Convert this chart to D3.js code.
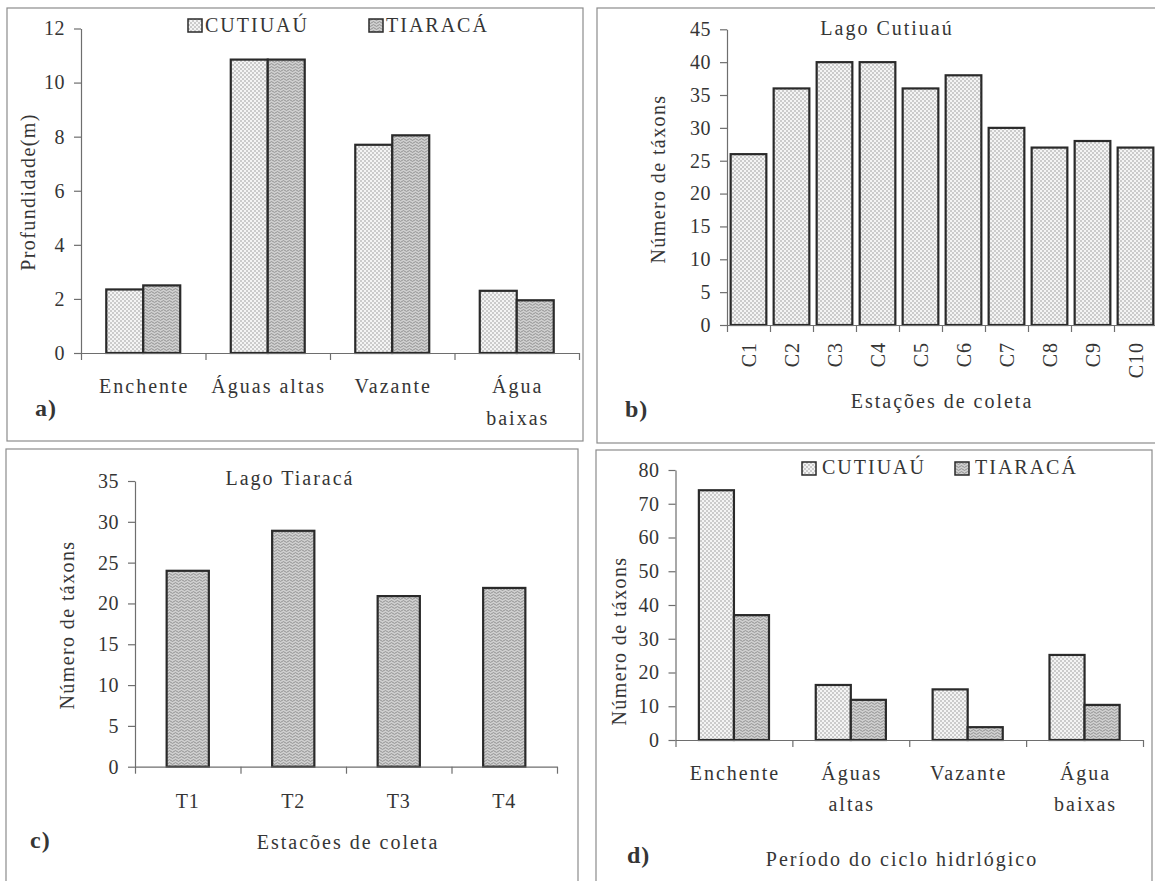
<!DOCTYPE html>
<html>
<head>
<meta charset="utf-8">
<script src="https://cdn.jsdelivr.net/npm/d3@7"></script>
<style>
  html, body { margin: 0; padding: 0; background: #ffffff; }
  svg { display: block; }
  text { font-family: "Liberation Serif", "Times New Roman", serif; fill: #353535; }
</style>
</head>
<body>
<svg id="chart" width="1155" height="881"></svg>
<script>
// ---------------- DATA ----------------
const seriesNames = ["CUTIUAÚ", "TIARACÁ"];

// a) Profundidade (m) por período
const periodsA = [["Enchente"], ["Águas altas"], ["Vazante"], ["Água", "baixas"]];
const depthCutiuau = [2.35, 10.85, 7.7, 2.3];
const depthTiaraca = [2.5, 10.85, 8.05, 1.95];
const depthTicks = [0, 2, 4, 6, 8, 10, 12];

// b) Lago Cutiuaú – número de táxons por estação
const stationsC = ["C1", "C2", "C3", "C4", "C5", "C6", "C7", "C8", "C9", "C10"];
const taxaStationsC = [26, 36, 40, 40, 36, 38, 30, 27, 28, 27];
const taxaTicksB = [0, 5, 10, 15, 20, 25, 30, 35, 40, 45];

// c) Lago Tiaracá – número de táxons por estação
const stationsT = ["T1", "T2", "T3", "T4"];
const taxaStationsT = [24, 28.9, 20.9, 21.9];
const taxaTicksC = [0, 5, 10, 15, 20, 25, 30, 35];

// d) Número de táxons por período do ciclo hidrológico
const periodsD = [["Enchente"], ["Águas", "altas"], ["Vazante"], ["Água", "baixas"]];
const taxaPeriodCutiuau = [74, 16.3, 15, 25.2];
const taxaPeriodTiaraca = [37, 11.9, 3.8, 10.4];
const taxaTicksD = [0, 10, 20, 30, 40, 50, 60, 70, 80];

// ---------------- DRAWING ----------------
const svg = d3.select("#chart");
const TEXT = "#353535", AXIS = "#6e6e6e", FRAME = "#8c8c8c", BAR_STROKE = "#2a2a2a";
const FS = 20;

const defs = svg.append("defs");
const pc = defs.append("pattern").attr("id", "patC").attr("patternUnits", "userSpaceOnUse")
  .attr("width", 4).attr("height", 4);
pc.append("rect").attr("width", 4).attr("height", 4).attr("fill", "#f4f4f4");
pc.append("circle").attr("cx", 1).attr("cy", 1).attr("r", 0.75).attr("fill", "#8e8e8e");
pc.append("circle").attr("cx", 3).attr("cy", 3).attr("r", 0.75).attr("fill", "#8e8e8e");

const pt = defs.append("pattern").attr("id", "patT").attr("patternUnits", "userSpaceOnUse")
  .attr("width", 6).attr("height", 3);
pt.append("rect").attr("width", 6).attr("height", 3).attr("fill", "#d0d0d0");
pt.append("path").attr("d", "M0,1.5 L1.5,0.6 L3,1.5 L4.5,2.4 L6,1.5")
  .attr("fill", "none").attr("stroke", "#838383").attr("stroke-width", 0.8);

const fills = ["url(#patC)", "url(#patT)"];

// panel frames
function frame(x1, y1, x2, y2) {
  svg.append("rect").attr("x", x1).attr("y", y1).attr("width", x2 - x1).attr("height", y2 - y1)
    .attr("fill", "none").attr("stroke", FRAME).attr("stroke-width", 1.2);
}
frame(7, 8, 583, 441);
frame(597, 8, 1170, 443);
frame(6, 449, 578, 900);
frame(596, 450, 1152, 900);

function styleAxis(g) {
  g.select(".domain").attr("stroke", AXIS).attr("stroke-width", 1.2);
  g.selectAll(".tick line").attr("stroke", AXIS).attr("stroke-width", 1.2);
}

function yAxis(y, x, ticks) {
  const g = svg.append("g").attr("transform", `translate(${x},0)`)
    .call(d3.axisLeft(y).tickValues(ticks).tickSize(7).tickPadding(9).tickSizeOuter(0));
  styleAxis(g);
  g.selectAll(".tick text").attr("font-size", FS).attr("fill", TEXT)
    .attr("font-family", '"Liberation Serif", serif').style("letter-spacing", "0.5px");
  return g;
}

function xAxisBoundaries(range, n, y0) {
  const xb = d3.scaleLinear().domain([0, n]).range(range);
  const g = svg.append("g").attr("transform", `translate(0,${y0})`)
    .call(d3.axisBottom(xb).tickValues(d3.range(n + 1)).tickFormat("").tickSize(7).tickSizeOuter(0));
  styleAxis(g);
  return g;
}

function label(x, y, txt, opts = {}) {
  const t = svg.append("text").attr("x", x).attr("y", y)
    .attr("text-anchor", opts.anchor || "middle")
    .attr("font-size", opts.size || FS)
    .style("letter-spacing", (opts.ls == null ? 2 : opts.ls) + "px")
    .text(txt);
  if (opts.bold) t.attr("font-weight", "bold");
  return t;
}

function yTitle(cx, cy, txt) {
  svg.append("text").attr("transform", `translate(${cx},${cy}) rotate(-90)`)
    .attr("text-anchor", "middle").attr("dy", "0.35em")
    .attr("font-size", FS).style("letter-spacing", "1.4px").text(txt);
}

function legend(items) {
  items.forEach(it => {
    svg.append("rect").attr("x", it.bx).attr("y", it.by).attr("width", 14).attr("height", 13)
      .attr("fill", it.fill).attr("stroke", BAR_STROKE).attr("stroke-width", 1.5);
    label(it.tx, it.ty, it.text, { anchor: "start", ls: 2 });
  });
}

function groupedPanel(cfg) {
  const x = d3.scaleBand().domain(d3.range(cfg.cats.length)).range(cfg.xRange).padding(0);
  const y = d3.scaleLinear().domain(cfg.yDomain).range(cfg.yRange);
  const bw = x.bandwidth() * cfg.barFrac;
  cfg.series.forEach((vals, si) => {
    svg.append("g").selectAll("rect").data(vals).join("rect")
      .attr("x", (d, i) => x(i) + x.bandwidth() / 2 - bw + si * bw)
      .attr("y", d => y(d))
      .attr("width", bw)
      .attr("height", d => y(0) - y(d))
      .attr("fill", fills[si]).attr("stroke", BAR_STROKE).attr("stroke-width", 2.2);
  });
  xAxisBoundaries(cfg.xRange, cfg.cats.length, y(0));
  yAxis(y, cfg.xRange[0], cfg.ticks);
  cfg.cats.forEach((lines, i) => {
    lines.forEach((ln, j) => {
      label(x(i) + x.bandwidth() / 2 + 1, cfg.labelY + j * cfg.lineGap, ln);
    });
  });
}

function singlePanel(cfg) {
  const x = d3.scaleBand().domain(cfg.cats).range(cfg.xRange).padding(0);
  const y = d3.scaleLinear().domain(cfg.yDomain).range(cfg.yRange);
  const bw = x.bandwidth() * cfg.barFrac;
  svg.append("g").selectAll("rect").data(cfg.values).join("rect")
    .attr("x", (d, i) => x(cfg.cats[i]) + (x.bandwidth() - bw) / 2)
    .attr("y", d => y(d))
    .attr("width", bw)
    .attr("height", d => y(0) - y(d))
    .attr("fill", cfg.fill).attr("stroke", BAR_STROKE).attr("stroke-width", 2.2);
  xAxisBoundaries(cfg.xRange, cfg.cats.length, y(0));
  yAxis(y, cfg.xRange[0], cfg.ticks);
  cfg.cats.forEach(c => {
    const cx = x(c) + x.bandwidth() / 2;
    if (cfg.rotate) {
      svg.append("text").attr("transform", `translate(${cx},${cfg.labelY}) rotate(-90)`)
        .attr("text-anchor", "end").attr("dy", "0.35em").attr("font-size", FS)
        .style("letter-spacing", "1px").text(c);
    } else {
      label(cx, cfg.labelY, c, { ls: 1 });
    }
  });
}

// ---- Panel a ----
groupedPanel({
  cats: periodsA, series: [depthCutiuau, depthTiaraca],
  xRange: [81, 579], yDomain: [0, 12], yRange: [353, 28.5], ticks: depthTicks,
  barFrac: 0.297, labelY: 393, lineGap: 32
});
yTitle(28, 192, "Profundidade(m)");
legend([
  { bx: 188, by: 19, fill: fills[0], tx: 205, ty: 32, text: seriesNames[0] },
  { bx: 369, by: 19, fill: fills[1], tx: 386, ty: 32, text: seriesNames[1] }
]);
label(35, 416, "a)", { anchor: "start", size: 24, bold: true, ls: 1 });

// ---- Panel b ----
singlePanel({
  cats: stationsC, values: taxaStationsC, fill: fills[0],
  xRange: [727, 1157], yDomain: [0, 45], yRange: [325, 29.3], ticks: taxaTicksB,
  barFrac: 0.83, labelY: 342, rotate: true
});
yTitle(658, 179, "Número de táxons");
label(887, 35, "Lago Cutiuaú");
label(942, 408, "Estações de coleta");
label(625, 417, "b)", { anchor: "start", size: 24, bold: true, ls: 1 });

// ---- Panel c ----
singlePanel({
  cats: stationsT, values: taxaStationsT, fill: fills[1],
  xRange: [135, 557], yDomain: [0, 35], yRange: [766.7, 481], ticks: taxaTicksC,
  barFrac: 0.40, labelY: 808, rotate: false
});
yTitle(67, 625, "Número de táxons");
label(290, 485, "Lago Tiaracá");
label(348, 849, "Estacões de coleta");
label(30, 848, "c)", { anchor: "start", size: 24, bold: true, ls: 1 });

// ---- Panel d ----
groupedPanel({
  cats: periodsD, series: [taxaPeriodCutiuau, taxaPeriodTiaraca],
  xRange: [675.5, 1143], yDomain: [0, 80], yRange: [740, 470], ticks: taxaTicksD,
  barFrac: 0.30, labelY: 780, lineGap: 31
});
yTitle(619, 641, "Número de táxons");
legend([
  { bx: 802, by: 462, fill: fills[0], tx: 822, ty: 474, text: seriesNames[0] },
  { bx: 955, by: 462, fill: fills[1], tx: 975, ty: 474, text: seriesNames[1] }
]);
label(902, 866, "Período do ciclo hidrlógico");
label(627, 863, "d)", { anchor: "start", size: 24, bold: true, ls: 1 });
</script>
</body>
</html>
